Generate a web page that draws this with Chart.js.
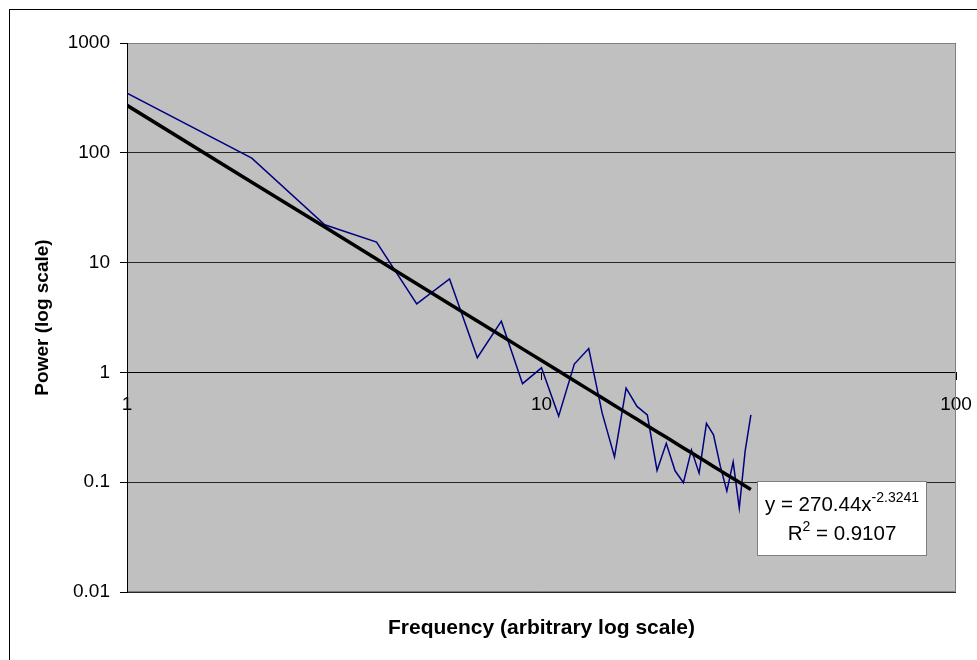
<!DOCTYPE html>
<html>
<head>
<meta charset="utf-8">
<title>Espectro de potencia</title>
<script src="https://cdn.jsdelivr.net/npm/chart.js@4.4.1/dist/chart.umd.min.js"></script>
<style>
    html, body { margin: 0; padding: 0; background: #fff; }
    canvas { display: block; }
</style>
</head>
<body>
<canvas id="espectroChart" width="977" height="660"></canvas>
<script>
// Frecuencias (escala log arbitraria) y potencia medida en cada una
const frecuencias = [1, 2, 3, 4, 5, 6, 7, 8, 9, 10, 11, 12, 13, 14, 15, 16,
                     17, 18, 19, 20, 21, 22, 23, 24, 25, 26, 27, 28, 29, 30, 31, 32];
const potencias = [349, 89.5, 22.1, 15.4, 4.2, 7.1, 1.36, 2.93, 0.79, 1.10, 0.40, 1.19, 1.65, 0.43, 0.17, 0.72,
                   0.49, 0.41, 0.128, 0.226, 0.127, 0.099, 0.197, 0.121, 0.344, 0.27, 0.14, 0.083, 0.153, 0.058, 0.193, 0.41];

// Marcas de los ejes
const ticksX = [1, 10, 100];
const etiquetasX = ['1', '10', '100'];
const ticksY = [0.01, 0.1, 1, 10, 100, 1000];
const etiquetasY = ['0.01', '0.1', '1', '10', '100', '1000'];

// Linea de tendencia potencial: y = A * x^B
const ajusteA = 270.44;
const ajusteB = -2.3241;
const ajusteR2 = 0.9107;

const FUENTE = '"Liberation Sans", Arial, sans-serif';
Chart.defaults.font.family = FUENTE;
Chart.defaults.color = '#000';

const puntos = frecuencias.map((f, i) => ({ x: f, y: potencias[i] }));
const tendencia = frecuencias.map(f => ({ x: f, y: ajusteA * Math.pow(f, ajusteB) }));

// Fondo blanco, marco exterior y area de trazado gris
const fondoGrafico = {
    id: 'fondoGrafico',
    beforeDraw(chart) {
        const ctx = chart.ctx;
        const a = chart.chartArea;
        ctx.save();
        ctx.fillStyle = '#fff';
        ctx.fillRect(0, 0, chart.width, chart.height);
        ctx.strokeStyle = '#000';
        ctx.lineWidth = 1;
        ctx.strokeRect(9.5, 9.5, chart.width + 20, chart.height + 20);
        ctx.fillStyle = '#c0c0c0';
        ctx.fillRect(a.left, a.top, a.right - a.left, a.bottom - a.top);
        ctx.restore();
    },
    beforeDatasetsDraw(chart) {
        // borde gris arriba, derecha y abajo
        const ctx = chart.ctx;
        const a = chart.chartArea;
        ctx.save();
        ctx.strokeStyle = '#808080';
        ctx.lineWidth = 1;
        ctx.beginPath();
        ctx.moveTo(a.left + 1, a.top + 0.5);
        ctx.lineTo(a.right - 0.5, a.top + 0.5);
        ctx.lineTo(a.right - 0.5, a.bottom - 0.5);
        ctx.lineTo(a.left + 1, a.bottom - 0.5);
        ctx.stroke();
        ctx.restore();
    }
};

// Escribe una linea con exponentes, centrada en cx
function textoConExponente(ctx, partes, cx, base) {
    const normal = '20.5px ' + FUENTE;
    const sup = '14px ' + FUENTE;
    let ancho = 0;
    partes.forEach(p => {
        ctx.font = p.sup ? sup : normal;
        ancho += ctx.measureText(p.t).width;
    });
    let x = cx - ancho / 2;
    partes.forEach(p => {
        ctx.font = p.sup ? sup : normal;
        ctx.fillText(p.t, x, p.sup ? base - 9 : base);
        x += ctx.measureText(p.t).width;
    });
}

// Cuadro con la ecuacion de la tendencia
const cuadroAjuste = {
    id: 'cuadroAjuste',
    afterDatasetsDraw(chart) {
        const ctx = chart.ctx;
        const caja = { x: 757.5, y: 481.5, w: 169, h: 74 };
        ctx.save();
        ctx.fillStyle = '#fff';
        ctx.fillRect(caja.x, caja.y, caja.w, caja.h);
        ctx.strokeStyle = '#808080';
        ctx.lineWidth = 1;
        ctx.strokeRect(caja.x, caja.y, caja.w, caja.h);
        ctx.fillStyle = '#000';
        ctx.textBaseline = 'alphabetic';
        ctx.textAlign = 'left';
        const cx = caja.x + caja.w / 2;
        textoConExponente(ctx, [
            { t: 'y = ' + ajusteA.toFixed(2) + 'x' },
            { t: String(ajusteB), sup: true }
        ], cx, 511);
        textoConExponente(ctx, [
            { t: 'R' },
            { t: '2', sup: true },
            { t: ' = ' + ajusteR2.toFixed(4) }
        ], cx, 540);
        ctx.restore();
    }
};

const fijarTicks = lista => scale => {
    scale.ticks = lista.map(v => ({ value: v }));
};

// sin margen extra por las etiquetas de los extremos
const sinRelleno = scale => {
    scale.paddingLeft = 0;
    scale.paddingRight = 0;
    scale.paddingTop = 0;
    scale.paddingBottom = 0;
};

new Chart(document.getElementById('espectroChart'), {
    type: 'line',
    data: {
        datasets: [{
            label: 'Potencia',
            data: puntos,
            borderColor: '#000080',
            borderWidth: 1.5,
            pointRadius: 0,
            tension: 0,
            order: 1
        }, {
            label: 'Tendencia',
            data: tendencia,
            borderColor: '#000',
            borderWidth: 3.5,
            pointRadius: 0,
            tension: 0,
            order: 0
        }]
    },
    options: {
        responsive: false,
        animation: false,
        layout: { padding: { top: 43, right: 21, left: 0, bottom: 0 } },
        plugins: {
            legend: { display: false },
            tooltip: { enabled: false }
        },
        scales: {
            x: {
                type: 'logarithmic',
                position: 'bottom',
                min: 1,
                max: 100,
                afterBuildTicks: fijarTicks(ticksX),
                afterFit: s => { s.height = 68; sinRelleno(s); },
                ticks: { display: false },
                grid: { display: false },
                border: { display: false },
                title: {
                    display: true,
                    text: 'Frequency (arbitrary log scale)',
                    color: '#000',
                    font: { size: 21, weight: 'bold' },
                    padding: { top: 0, bottom: 19 }
                }
            },
            ejeX: {
                type: 'logarithmic',
                axis: 'x',
                position: { y: 1 },
                min: 1,
                max: 100,
                afterBuildTicks: fijarTicks(ticksX),
                afterFit: sinRelleno,
                ticks: {
                    callback: (v, i) => etiquetasX[i],
                    color: '#000',
                    font: { size: 19 },
                    padding: 14,
                    autoSkip: false,
                    maxRotation: 0
                },
                grid: { drawOnChartArea: false, drawTicks: true, tickLength: 7, color: '#000' },
                border: { color: '#000', width: 1 }
            },
            y: {
                type: 'logarithmic',
                position: 'left',
                min: 0.01,
                max: 1000,
                afterBuildTicks: fijarTicks(ticksY),
                afterFit: s => { s.width = 127; sinRelleno(s); },
                ticks: {
                    callback: (v, i) => etiquetasY[i],
                    color: '#000',
                    font: { size: 19 },
                    padding: 10,
                    autoSkip: false
                },
                grid: { color: '#262626', tickColor: '#000', tickLength: 7, lineWidth: 1 },
                border: { color: '#000', width: 1 },
                title: {
                    display: true,
                    text: 'Power (log scale)',
                    color: '#000',
                    font: { size: 19, weight: 'bold' },
                    padding: { top: 31, bottom: 0 }
                }
            }
        }
    },
    plugins: [fondoGrafico, cuadroAjuste]
});
</script>
</body>
</html>
